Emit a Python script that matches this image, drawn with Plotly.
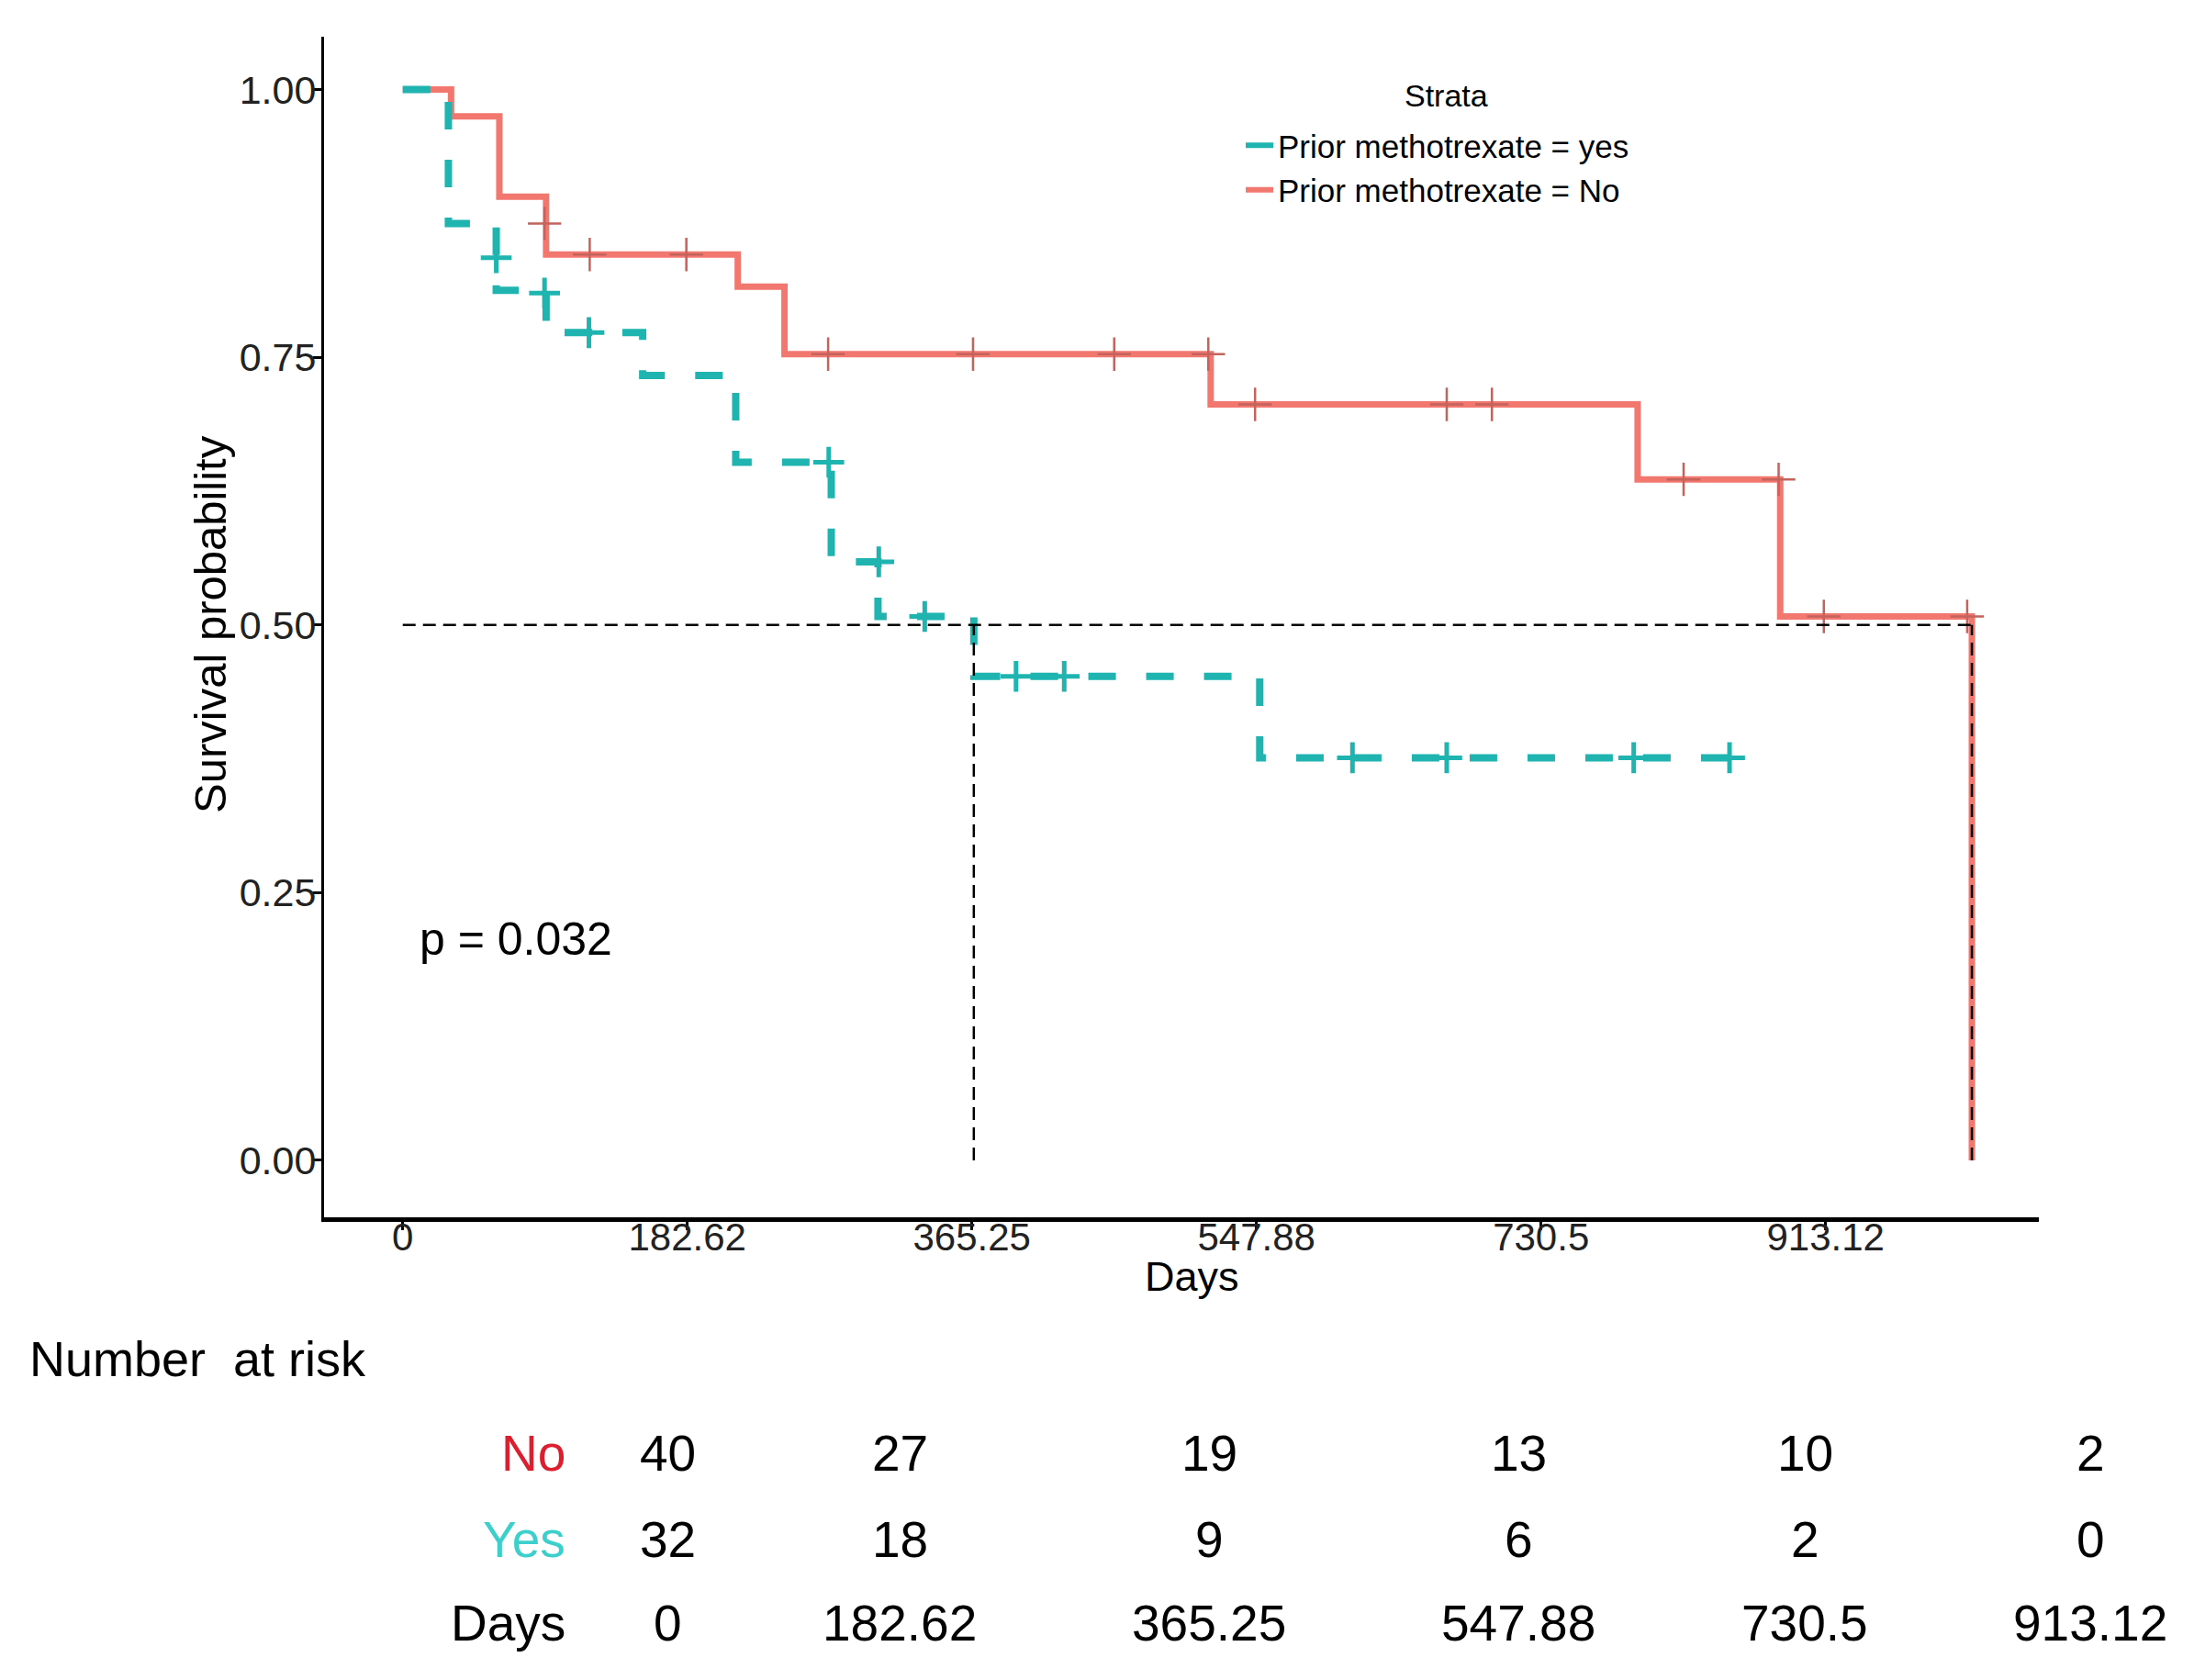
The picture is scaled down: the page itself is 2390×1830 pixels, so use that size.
import plotly.graph_objects as go

# ---------------- data ----------------
NO_TIMES = [0, 31, 62, 92, 215, 245, 518.5, 792.5, 884, 1007]
NO_SURV = [1.0, 0.975, 0.90, 0.846, 0.816, 0.753, 0.706, 0.636, 0.508, 0.0]
NO_CENS_T = [91, 120, 182, 273, 366, 456.6, 517, 547, 670, 699, 822, 883, 912, 1004]
NO_CENS_S = [0.875, 0.846, 0.846, 0.753, 0.753, 0.753, 0.753, 0.706, 0.706, 0.706,
             0.636, 0.636, 0.508, 0.508]

YES_TIMES = [0, 29.3, 60, 92, 154, 213.7, 275, 305, 366.5, 550, 852]
YES_SURV = [1.0, 0.875, 0.8125, 0.773, 0.733, 0.652, 0.559, 0.508, 0.452, 0.376, 0.376]
YES_CENS_T = [60, 91, 119.5, 273.4, 305.5, 335, 393.6, 424.5, 609.5, 670, 790, 851.5]
YES_CENS_S = [0.843, 0.81, 0.773, 0.652, 0.559, 0.508, 0.452, 0.452, 0.376, 0.376,
              0.376, 0.376]

MEDIAN_TIMES = [366.5, 1007]
MEDIAN_LEVEL = 0.5

X_TICKS = [0, 182.62, 365.25, 547.88, 730.5, 913.12]
X_TICK_LABELS = ["0", "182.62", "365.25", "547.88", "730.5", "913.12"]
Y_TICKS = [0.0, 0.25, 0.5, 0.75, 1.0]
Y_TICK_LABELS = ["0.00", "0.25", "0.50", "0.75", "1.00"]

RISK_NO = [40, 27, 19, 13, 10, 2]
RISK_YES = [32, 18, 9, 6, 2, 0]
RISK_DAYS = ["0", "182.62", "365.25", "547.88", "730.5", "913.12"]

P_TEXT = "p = 0.032"
LEGEND_TITLE = "Strata"
LEGEND_NAMES = ["Prior methotrexate = yes", "Prior methotrexate = No"]

# ---------------- styling / layout constants ----------------
OFF = 8                                  # page body margin of the html page
W, H = 2390 - 2 * OFF, 1830 - 2 * OFF
PL, PR, PT, PB = 353 - OFF, 2221 - OFF, 40 - OFF, 1326 - OFF   # plot area (figure px)
RED = "#F2776F"
RED_DARK = "#C4625C"
CYAN = "#1FB4AF"
SANS = "Liberation Sans, Arial, sans-serif"
TABLE_COL_PX = [727, 980, 1317, 1654, 1966, 2277]    # page px
TABLE_ROW_PX = [1583, 1677, 1768]                     # page px


def px_to_paper_x(px):
    return (px - OFF - PL) / (PR - PL)


def px_to_paper_y(py):
    return (PB - (py - OFF)) / (PB - PT)


fig = go.Figure()

# survival curves
fig.add_trace(go.Scatter(x=NO_TIMES, y=NO_SURV, mode="lines", line_shape="hv",
                         line=dict(color=RED, width=7), showlegend=False, hoverinfo="skip"))
fig.add_trace(go.Scatter(x=YES_TIMES, y=YES_SURV, mode="lines", line_shape="hv",
                         line=dict(color=CYAN, width=8, dash="30px,33px"),
                         showlegend=False, hoverinfo="skip"))

# censor marks
fig.add_trace(go.Scatter(x=NO_CENS_T, y=NO_CENS_S, mode="markers",
                         marker=dict(symbol="cross-thin", size=26,
                                     line=dict(color=RED_DARK, width=2.5)),
                         showlegend=False, hoverinfo="skip"))
fig.add_trace(go.Scatter(x=YES_CENS_T, y=YES_CENS_S, mode="markers",
                         marker=dict(symbol="cross-thin", size=24,
                                     line=dict(color=CYAN, width=5)),
                         showlegend=False, hoverinfo="skip"))

# median survival lines
fig.add_trace(go.Scatter(x=[0, max(MEDIAN_TIMES)], y=[MEDIAN_LEVEL, MEDIAN_LEVEL],
                         mode="lines", line=dict(color="black", width=2.5, dash="14px,8px"),
                         showlegend=False, hoverinfo="skip"))
for mt in MEDIAN_TIMES:
    fig.add_trace(go.Scatter(x=[mt, mt], y=[0, MEDIAN_LEVEL], mode="lines",
                             line=dict(color="black", width=2.5, dash="14px,8px"),
                             showlegend=False, hoverinfo="skip"))

# legend entries (solid keys as in the original)
for name, col in zip(LEGEND_NAMES, [CYAN, RED]):
    fig.add_trace(go.Scatter(x=[None], y=[None], mode="lines", name=name,
                             line=dict(color=col, width=6)))

annotations = [
    dict(text=P_TEXT, x=9.4, y=0.2066, xref="x", yref="y", xanchor="left",
         yanchor="middle", showarrow=False, font=dict(family=SANS, size=50, color="black")),
    dict(text="Survival probability", x=px_to_paper_x(229), y=px_to_paper_y(680),
         xref="paper", yref="paper", textangle=-90, xanchor="center", yanchor="middle",
         showarrow=False, font=dict(family=SANS, size=49, color="black")),
    dict(text="Days", x=px_to_paper_x(1298), y=px_to_paper_y(1390), xref="paper",
         yref="paper", xanchor="center", yanchor="middle", showarrow=False,
         font=dict(family=SANS, size=45, color="black")),
    dict(text=LEGEND_TITLE, x=px_to_paper_x(1575), y=px_to_paper_y(104), xref="paper",
         yref="paper", xanchor="center", yanchor="middle", showarrow=False,
         font=dict(family=SANS, size=34, color="black")),
    dict(text="Number\u00a0 at risk", x=px_to_paper_x(30), y=px_to_paper_y(1480),
         xref="paper", yref="paper", xanchor="left", yanchor="middle", showarrow=False,
         font=dict(family=SANS, size=54, color="black")),
]

row_labels = [("No", "#DC1F2E"), ("Yes", "#3CCFCB"), ("Days", "black")]
rows = [RISK_NO, RISK_YES, RISK_DAYS]
for (lab, col), ypx, vals in zip(row_labels, TABLE_ROW_PX, rows):
    annotations.append(dict(text=lab, x=px_to_paper_x(618), y=px_to_paper_y(ypx),
                            xref="paper", yref="paper", xanchor="right", yanchor="middle",
                            showarrow=False, font=dict(family=SANS, size=55, color=col)))
    for xpx, v in zip(TABLE_COL_PX, vals):
        annotations.append(dict(text=str(v), x=px_to_paper_x(xpx), y=px_to_paper_y(ypx),
                                xref="paper", yref="paper", xanchor="center",
                                yanchor="middle", showarrow=False,
                                font=dict(family=SANS, size=55, color="black")))

fig.update_layout(
    width=W, height=H,
    margin=dict(l=PL, r=W - PR, t=PT, b=H - PB, pad=0),
    paper_bgcolor="white", plot_bgcolor="white",
    xaxis=dict(range=[-50.5, 1050], tickvals=X_TICKS, ticktext=X_TICK_LABELS,
               showgrid=False, zeroline=False, showline=True, linecolor="black",
               linewidth=4.5, ticks="outside", ticklen=9, tickwidth=3, tickcolor="black",
               ticklabelstandoff=-28,
               tickfont=dict(family=SANS, size=42, color="#222222")),
    yaxis=dict(range=[-0.0532, 1.0494], tickvals=Y_TICKS, ticktext=Y_TICK_LABELS,
               showgrid=False, zeroline=False, showline=True, linecolor="black",
               linewidth=3, ticks="outside", ticklen=9, tickwidth=3, tickcolor="black",
               ticklabelstandoff=-12,
               tickfont=dict(family=SANS, size=43, color="#222222")),
    legend=dict(x=px_to_paper_x(1352), y=px_to_paper_y(129), xanchor="left", yanchor="top",
                bgcolor="rgba(0,0,0,0)", itemwidth=30, tracegroupgap=0,
                font=dict(family=SANS, size=35, color="black")),
    annotations=annotations,
)

fig.write_html("out.html")
